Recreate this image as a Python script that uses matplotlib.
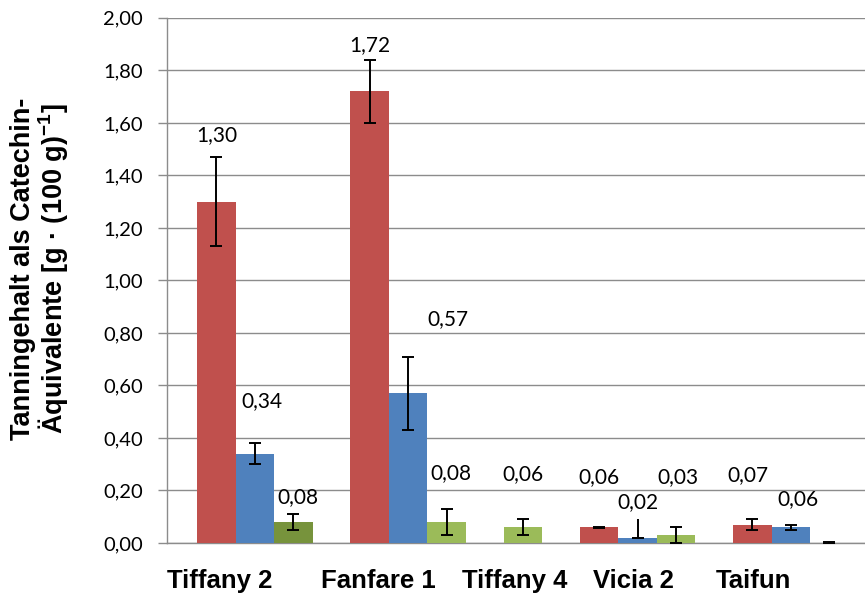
import numpy as np
import matplotlib
matplotlib.use("Agg")
import matplotlib.pyplot as plt

# values
categories = ["Tiffany 2", "Fanfare 1", "Tiffany 4", "Vicia 2", "Taifun"]
red_vals = [1.30, 1.72, np.nan, 0.06, 0.07]
blue_vals = [0.34, 0.57, np.nan, 0.02, 0.06]
green_vals = [0.08, 0.08, 0.06, 0.03, 0.00]
red_err = [0.17, 0.12, np.nan, 0.002, 0.02]
blue_err_lo = [0.04, 0.14, np.nan, 0.0, 0.01]
blue_err_hi = [0.04, 0.14, np.nan, 0.07, 0.01]
green_err = [0.03, 0.05, 0.03, 0.03, 0.005]
red_text = ["1,30", "1,72", "", "0,06", "0,07"]
blue_text = ["0,34", "0,57", "", "0,02", "0,06"]
green_text = ["0,08", "0,08", "0,06", "0,03", ""]

# layout: group centres, label heights / shifts
group_x = np.array([0, 2, 3, 5, 7])
tick_x = [-0.46, 1.61, 3.39, 4.95, 6.51]
red_lab_y = [1.554, 1.897, 0, 0.25, 0.26]
blue_lab_y = [0.541, 0.853, 0, 0.156, 0.168]
green_lab_y = [0.175, 0.267, 0.263, 0.25, 0]
red_lab_dx = [0, 0, 0, 0, -0.05]
blue_lab_dx = [0.09, 0.52, 0, 0, 0.1]
green_lab_dx = [0.06, 0.05, 0, 0.02, 0]

RED = "#C0504D"
BLUE = "#4F81BD"
GREEN = "#9BBB59"
GREEN_DARK = "#77933C"
GRID = "#8C8C8C"

plt.rcParams["font.family"] = ["Lato", "DejaVu Sans"]
plt.rcParams["mathtext.fontset"] = "custom"
plt.rcParams["mathtext.bf"] = "Liberation Sans:bold"
plt.rcParams["mathtext.rm"] = "Liberation Sans:bold"

fig = plt.figure(figsize=(8.65, 5.95), dpi=100)
ax = fig.add_axes([0.193, 0.0874, 0.807, 0.8826])

w = 0.503
ebar = dict(ecolor="black", elinewidth=1.4, capsize=4.5, capthick=1.4)
ax.bar(group_x - w, red_vals, w, color=RED, yerr=red_err, zorder=3, error_kw=ebar)
blue = ax.bar(group_x, blue_vals, w, color=BLUE,
              yerr=[blue_err_lo, blue_err_hi], zorder=3, error_kw=ebar)
green_cols = [GREEN_DARK] + [GREEN] * (len(green_vals) - 1)
ax.bar(group_x + w, green_vals, w, color=green_cols, yerr=green_err, zorder=3, error_kw=ebar)

# Vicia 2 blue: no cap on the upper end (as in the original)
caps = blue.errorbar.lines[1]
upper = max(caps, key=lambda c: np.nanmax(c.get_ydata()))
ux = np.asarray(upper.get_xdata(), float)
uy = np.asarray(upper.get_ydata(), float).copy()
uy[np.isclose(ux, group_x[3])] = np.nan
upper.set_ydata(uy)

for off, texts, ys, dxs in [(-w, red_text, red_lab_y, red_lab_dx),
                            (0, blue_text, blue_lab_y, blue_lab_dx),
                            (w, green_text, green_lab_y, green_lab_dx)]:
    for gx, t, y, dx in zip(group_x, texts, ys, dxs):
        if t:
            ax.text(gx + off + dx, y, t, ha="center", va="center", fontsize=15, zorder=4)

ax.set_ylim(0, 2.0)
ax.set_xlim(-1.15, 7.97)
yt = np.arange(0, 2.01, 0.2)
ax.set_yticks(yt)
ax.set_yticklabels([f"{v:.2f}".replace(".", ",") for v in yt], fontsize=14.5)
ax.yaxis.grid(True, color=GRID, linewidth=1.0, zorder=0)
ax.set_axisbelow(True)
ax.tick_params(axis="y", direction="out", length=6.5, color=GRID, width=1.0, pad=11)

ax.set_xticks(tick_x)
ax.set_xticklabels(categories, fontsize=18.5, fontweight="bold", family="Liberation Sans")
ax.tick_params(axis="x", length=0, pad=19)

for s in ["top", "right"]:
    ax.spines[s].set_visible(False)
for s in ["left", "bottom"]:
    ax.spines[s].set_color(GRID)
    ax.spines[s].set_linewidth(1.0)

ax.set_ylabel("Tanningehalt als Catechin-\nÄquivalente [g · (100 g)$^{-1}$]",
              fontsize=19.5, fontweight="bold", family="Liberation Sans",
              linespacing=1.0)
ax.yaxis.set_label_coords(-0.139, 0.522)

fig.savefig("out.png", dpi=100)
